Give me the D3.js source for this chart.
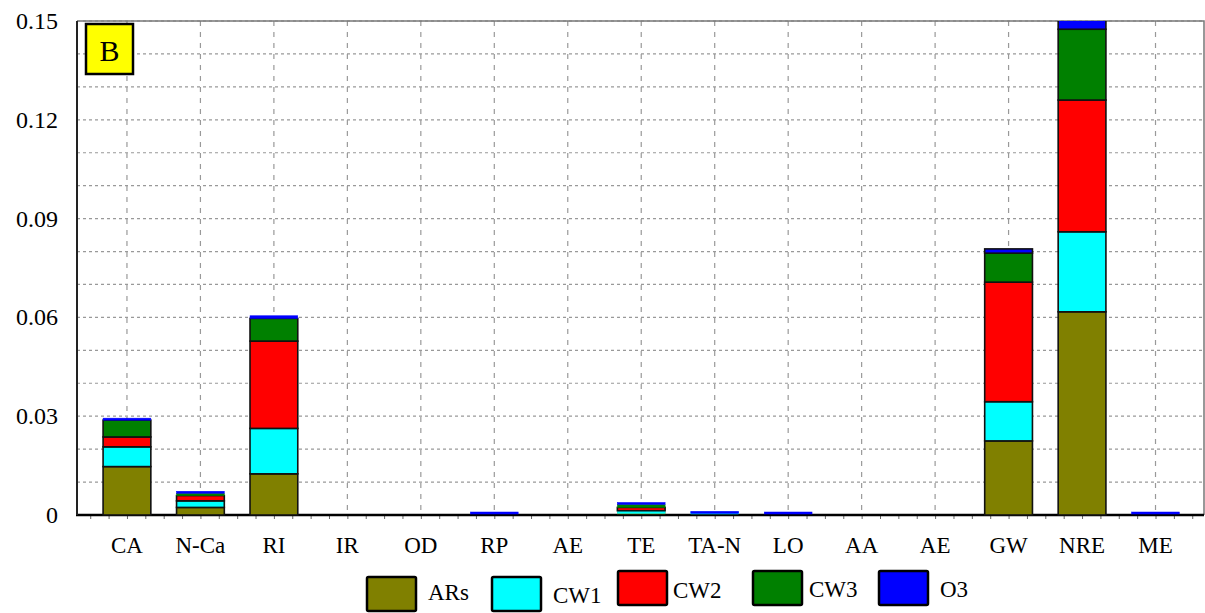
<!DOCTYPE html>
<html>
<head>
<meta charset="utf-8">
<script src="https://cdn.jsdelivr.net/npm/d3@7"></script>
<style>
  html, body { margin: 0; padding: 0; background: #fff; }
  svg { display: block; font-family: "Liberation Serif", "DejaVu Serif", serif; }
</style>
</head>
<body>
<div id="chart"></div>
<script>
// categories along the x axis (AE appears twice, so bars are placed by index)
var categories = ["CA", "N-Ca", "RI", "IR", "OD", "RP", "AE", "TE", "TA-N", "LO", "AA", "AE", "GW", "NRE", "ME"];
var seriesNames = ["ARs", "CW1", "CW2", "CW3", "O3"];
var seriesColors = ["#808000", "#00ffff", "#ff0000", "#008000", "#0000ff"];

var ARs = [0.0147, 0.0023, 0.0125, 0, 0, 0, 0, 0.0005, 0, 0, 0, 0, 0.0225, 0.0617, 0];
var CW1 = [0.0060, 0.0020, 0.0138, 0, 0, 0, 0, 0.0008, 0.0005, 0, 0, 0, 0.0119, 0.0243, 0];
var CW2 = [0.0030, 0.0016, 0.0265, 0, 0, 0, 0, 0.0010, 0, 0, 0, 0, 0.0363, 0.0400, 0];
var CW3 = [0.0051, 0.0007, 0.0069, 0, 0, 0, 0, 0.0009, 0, 0, 0, 0, 0.0088, 0.0215, 0];
var O3  = [0.0002, 0.0005, 0.0008, 0, 0, 0.0003, 0, 0.0005, 0.0003, 0.0003, 0, 0, 0.0013, 0.0030, 0.0004];

var yTicks = [0, 0.03, 0.06, 0.09, 0.12, 0.15];
var panelLabel = "B";

var W = 1205, H = 613;
var mLeft = 77, mRight = 1204, mTop = 21, mBottom = 515;

var svg = d3.select('#chart').append('svg')
  .attr('width', W).attr('height', H);

var x = d3.scaleLinear().domain([0.32, 15.66]).range([mLeft, mRight]);
var y = d3.scaleLinear().domain([0, 0.15]).range([mBottom, mTop]);
var barW = x(1.65) - x(1);

// grid
var grid = svg.append('g');
grid.selectAll('.hg')
  .data(d3.range(1, 16).map(function(d){ return d / 100; }))
  .enter().append('line')
    .attr('x1', mLeft).attr('x2', mRight)
    .attr('y1', function(d){ return y(d); })
    .attr('y2', function(d){ return y(d); })
    .attr('stroke', '#999').attr('stroke-width', 1.2)
    .attr('stroke-dasharray', '3,3');
grid.selectAll('.vg')
  .data(d3.range(1, 16))
  .enter().append('line')
    .attr('x1', function(d){ return x(d); })
    .attr('x2', function(d){ return x(d); })
    .attr('y1', mTop).attr('y2', mBottom)
    .attr('stroke', '#999').attr('stroke-width', 1.2)
    .attr('stroke-dasharray', '5,6');

// frame (top / right)
svg.append('path')
  .attr('d', 'M' + mLeft + ',' + mTop + 'H' + mRight + 'V' + mBottom)
  .attr('fill', 'none').attr('stroke', '#777').attr('stroke-width', 1.5);

// x axis with minor ticks
var xAxis = svg.append('g')
  .attr('transform', 'translate(0,' + mBottom + ')')
  .call(d3.axisBottom(x).tickValues(d3.range(0.5, 15.6, 0.25)).tickSize(4).tickFormat(''));
xAxis.select('.domain').remove();
xAxis.selectAll('line').attr('stroke', '#666');

svg.append('line')
  .attr('x1', mLeft - 1).attr('x2', mRight)
  .attr('y1', mBottom).attr('y2', mBottom)
  .attr('stroke', '#000').attr('stroke-width', 2.5);
svg.append('line')
  .attr('x1', mLeft).attr('x2', mLeft)
  .attr('y1', mTop).attr('y2', mBottom)
  .attr('stroke', '#222').attr('stroke-width', 2);

// stacked bars
var table = categories.map(function(c, i){
  return { idx: i + 1, ARs: ARs[i], CW1: CW1[i], CW2: CW2[i], CW3: CW3[i], O3: O3[i] };
});
var stacked = d3.stack().keys(seriesNames)(table);

svg.append('clipPath').attr('id', 'plotclip')
  .append('rect').attr('x', mLeft).attr('y', mTop)
  .attr('width', mRight - mLeft).attr('height', mBottom - mTop + 2);

var bars = svg.append('g').attr('clip-path', 'url(#plotclip)');
stacked.forEach(function(layer, k){
  bars.selectAll('.s' + k)
    .data(layer.filter(function(d){ return d[1] - d[0] > 0; }))
    .enter().append('rect')
      .attr('x', function(d){ return x(d.data.idx) - barW / 2; })
      .attr('width', barW)
      .attr('y', function(d){
        var h = Math.max(y(d[0]) - y(d[1]), 2);
        return y(d[0]) - h - (d[0] === 0 && h < 3 ? 1 : 0);
      })
      .attr('height', function(d){ return Math.max(y(d[0]) - y(d[1]), 2); })
      .attr('fill', seriesColors[k])
      .attr('stroke', function(d){ return (y(d[0]) - y(d[1])) >= 3 ? '#111' : seriesColors[k]; })
      .attr('stroke-width', function(d){ return (y(d[0]) - y(d[1])) >= 3 ? 1.6 : 0.5; });
});

svg.selectAll('.xl')
  .data(categories)
  .enter().append('text')
    .attr('x', function(d, i){ return x(i + 1); })
    .attr('y', 553)
    .attr('text-anchor', 'middle')
    .attr('font-size', 23)
    .text(function(d){ return d; });

// y labels
svg.selectAll('.yl')
  .data(yTicks)
  .enter().append('text')
    .attr('x', 58)
    .attr('y', function(d){ return y(d) + 8; })
    .attr('text-anchor', 'end')
    .attr('font-size', 24)
    .text(function(d){ return d === 0 ? '0' : d3.format('.2f')(d); });

// panel label
svg.append('rect')
  .attr('x', 86).attr('y', 24).attr('width', 47).attr('height', 50)
  .attr('fill', '#ffff00').attr('stroke', '#000').attr('stroke-width', 2.5);
svg.append('text')
  .attr('x', 109.5).attr('y', 61)
  .attr('text-anchor', 'middle').attr('font-size', 30)
  .text(panelLabel);

// legend
var legendPos = [
  { bx: 367, by: 577, tx: 428, ty: 600 },
  { bx: 492, by: 577, tx: 553, ty: 603 },
  { bx: 618, by: 571, tx: 673, ty: 598 },
  { bx: 753, by: 571, tx: 809, ty: 597 },
  { bx: 879, by: 571, tx: 940, ty: 597 }
];
var legend = svg.append('g');
seriesNames.forEach(function(name, k){
  var p = legendPos[k];
  legend.append('rect')
    .attr('x', p.bx).attr('y', p.by).attr('width', 49).attr('height', 34)
    .attr('rx', 1.5)
    .attr('fill', seriesColors[k]).attr('stroke', '#000').attr('stroke-width', 2.5);
  legend.append('text')
    .attr('x', p.tx).attr('y', p.ty)
    .attr('font-size', 23)
    .text(name);
});
</script>
</body>
</html>
